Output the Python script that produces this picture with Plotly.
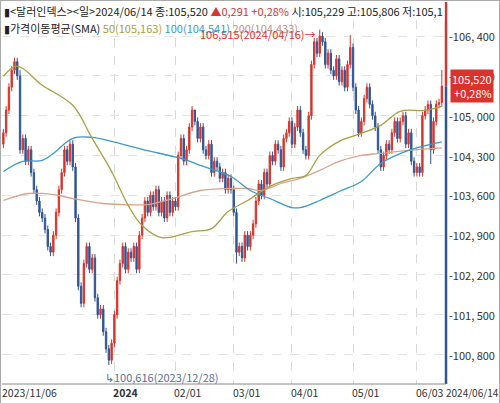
import plotly.graph_objects as go

# daily closes, 2023/11/06 .. 2024/06/14 (159 trading days)
closes = [
    104700, 105100, 105500, 105800, 105950, 105700, 104400, 104600, 104200, 104400,
    104000, 103700, 103500, 103300, 103200, 103000, 102700, 102600, 102900, 103300,
    103700, 104000, 104400, 104200, 104500, 104100, 103200, 102000, 101700, 102400,
    102700, 102300, 102500, 101800, 101500, 101600, 101200, 100900, 100700, 101000,
    101500, 102100, 102400, 102700, 102300, 102600, 102500, 102700, 102300, 102900,
    103200, 103500, 103300, 103600, 103400, 103700, 103300, 103500, 103200, 103600,
    103300, 103500, 103400, 104300, 104600, 104200, 104400, 104800, 105100, 104900,
    104600, 104800, 104400, 104300, 104500, 104000, 104200, 104100, 103900, 104000,
    103700, 103900, 103700, 103300, 102600, 102700, 102500, 102900, 102700, 102900,
    103100, 103500, 103800, 103600, 104000, 103800, 104300, 104200, 104500, 104400,
    104100, 104600, 104700, 104900, 104500, 104800, 105100, 104700, 104400, 104300,
    105000, 105900, 106300, 106100, 106400, 106300, 105900, 106100, 105800, 105700,
    106000, 105600, 105800, 105500, 105900, 106200, 105500, 105100, 104700, 104900,
    105300, 105500, 105200, 105000, 104800, 104400, 104100, 104300, 104500, 104400,
    104700, 104900, 104600, 104900, 105000, 104500, 104700, 104200, 104000, 104100,
    104000, 105000, 105100, 105200, 104400, 104900, 105200, 105229, 105520,
]
wick = 70
high_overrides = {114: 106515, 125: 106420, 158: 105806, 6: 105800, 69: 105030}
low_overrides = {38: 100616, 154: 104150, 84: 102400}

# moving averages read at (bar index, value)
sma50_idx = [0, 5, 14, 25, 32, 39, 45, 50, 57, 68, 75, 81, 88, 96, 104, 109, 114, 121, 129, 136, 143, 152, 158]
sma50_val = [105695, 105871, 105536, 105183, 104602, 104020, 103420, 103068, 102856, 102962, 103015, 103315,
             103508, 103756, 103897, 103950, 104302, 104549, 104690, 104831, 105078, 105095, 105163]
sma100_idx = [0, 7, 14, 18, 25, 32, 39, 50, 64, 71, 82, 89, 96, 104, 107, 114, 121, 129, 136, 146, 158]
sma100_val = [104020, 104196, 104214, 104337, 104602, 104619, 104549, 104408, 104249, 104126, 103932, 103685,
              103544, 103385, 103385, 103509, 103667, 103844, 104161, 104390, 104541]
sma200_idx = [0, 9, 18, 25, 36, 43, 52, 61, 71, 82, 88, 93, 100, 107, 114, 121, 129, 136, 146, 158]
sma200_val = [103509, 103632, 103614, 103544, 103456, 103438, 103438, 103544, 103685, 103720, 103720, 103685,
              103808, 103897, 104038, 104196, 104302, 104337, 104390, 104433]

tick_idx = [0, 40, 62, 83, 104, 126, 149]
tick_text = ["2023/11/06", "<b>2024</b>", "02/01", "03/01", "04/01", "05/01", "06/03"]
y_ticks = [100800, 101500, 102200, 102900, 103600, 104300, 105000, 105700, 106400]

RED = "#d9342b"
BLUE = "#2f5597"

opens = [104500] + closes[:-1]
opens[158] = 105229
highs, lows = [], []
for i, (o, c) in enumerate(zip(opens, closes)):
    highs.append(high_overrides.get(i, max(o, c) + wick))
    lows.append(low_overrides.get(i, min(o, c) - wick))
idx = list(range(len(closes)))

fig = go.Figure()
fig.add_trace(go.Candlestick(
    x=idx, open=opens, high=highs, low=lows, close=closes,
    increasing=dict(line=dict(color=RED, width=1), fillcolor=RED),
    decreasing=dict(line=dict(color=BLUE, width=1), fillcolor=BLUE),
    whiskerwidth=0, showlegend=False,
))
fig.add_trace(go.Scatter(x=sma200_idx, y=sma200_val, mode="lines", line=dict(color="#d8a48c", width=1.3, shape="spline"), showlegend=False))
fig.add_trace(go.Scatter(x=sma100_idx, y=sma100_val, mode="lines", line=dict(color="#3a9ad0", width=1.3, shape="spline"), showlegend=False))
fig.add_trace(go.Scatter(x=sma50_idx, y=sma50_val, mode="lines", line=dict(color="#a8a040", width=1.3, shape="spline"), showlegend=False))

F = "Noto Sans CJK KR"
ann = []
for t, s in zip(tick_idx, tick_text):
    ann.append(dict(x=t, y=0, xref="x", yref="paper", text=s, showarrow=False, xanchor="left", yanchor="top",
                    font=dict(size=10.5, color="#333", family=F), xshift=-3, yshift=1))
ann.append(dict(x=1.0, y=0, xref="paper", yref="paper", text="2024/06/14", showarrow=False, xanchor="left",
                yanchor="top", font=dict(size=10, color="#333", family=F), xshift=-2, yshift=1))
for v in y_ticks:
    ann.append(dict(x=1.0, y=v, xref="paper", yref="y", text="-" + f"{v:,}".replace(",", ", "), showarrow=False,
                    xanchor="left", font=dict(size=11, color="#333", family=F), xshift=1))
ann.append(dict(x=0.0, y=1.0, xref="paper", yref="paper", xanchor="left", yanchor="top", showarrow=False,
                text="▮<달러인덱스><일>2024/06/14 종:105,520 <span style='color:#d9342b'>▲0,291 +0,28%</span> 시:105,229 고:105,806 저:105,1",
                font=dict(size=11, color="#222", family=F), bgcolor="white", yshift=1))
ann.append(dict(x=0.0, y=0.955, xref="paper", yref="paper", xanchor="left", yanchor="top", showarrow=False,
                text="▮가격이동평균(SMA) <span style='color:#a8a040'>50(105,163)</span> <span style='color:#3a9ad0'>100(104,541)</span> <span style='color:#c89080'>200(104,433)</span>",
                font=dict(size=11, color="#222", family=F), yshift=1))
ann.append(dict(x=114, y=106515, xref="x", yref="y", xanchor="right", showarrow=False, text="106,515(2024/04/16)→",
                font=dict(size=11, color=RED, family=F), xshift=-2, yshift=-4))
ann.append(dict(x=38, y=100616, xref="x", yref="y", xanchor="left", yanchor="top", showarrow=False, text="↳100,616(2023/12/28)",
                font=dict(size=11, color="#5a6fa0", family=F), xshift=-6, yshift=-2))
ann.append(dict(x=1.0, y=105520, xref="paper", yref="y", xanchor="left", showarrow=False, text="105,520<br>+0,28%",
                font=dict(size=11, color="white", family=F), bgcolor=RED, xshift=4, align="right"))
fig.update_layout(annotations=ann)

fig.add_shape(type="line", xref="paper", yref="y", x0=1.0, x1=1.0, y0=105520, y1=107100, line=dict(color=RED, width=2.5))
fig.add_shape(type="line", xref="paper", yref="y", x0=1.0, x1=1.0, y0=100200, y1=105520, line=dict(color=BLUE, width=2.5))
fig.add_shape(type="line", xref="paper", yref="paper", x0=0, x1=1.0, y0=0, y1=0, line=dict(color="#888", width=1))

fig.update_layout(
    width=500, height=403,
    margin=dict(l=1, r=55, t=1, b=20),
    plot_bgcolor="white", paper_bgcolor="white",
    xaxis=dict(range=[-0.5, 159.5], tickvals=tick_idx[1:], showticklabels=False, showgrid=True,
               gridcolor="#d8d8d8", griddash="dash", rangeslider=dict(visible=False), zeroline=False),
    yaxis=dict(range=[100282, 107000], tickvals=y_ticks, showticklabels=False, showgrid=True,
               gridcolor="#e2e2e2", griddash="dash", zeroline=False),
)
fig.write_html("out.html", post_script="document.body.style.margin='0';document.body.style.border='1px solid #aaa';document.body.style.boxSizing='border-box';")
